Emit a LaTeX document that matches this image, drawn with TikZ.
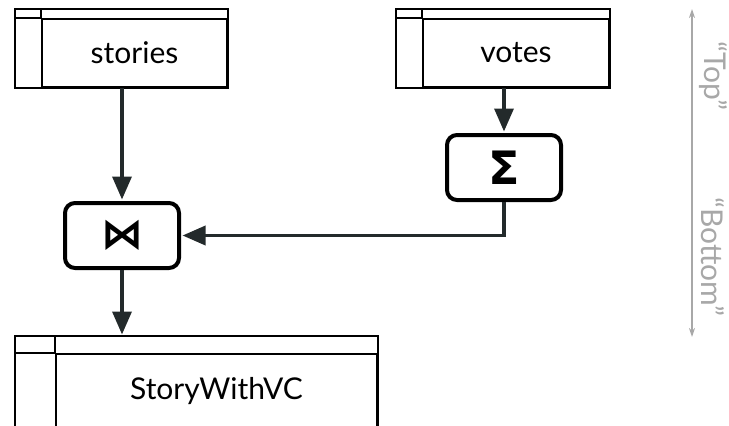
\documentclass[tikz,border=0pt]{standalone}
\usepackage{fontspec}
\setmainfont{Lato}
\newfontfamily\symfont{DejaVu Sans}
\usetikzlibrary{arrows.meta}
\tikzset{>={Stealth[inset=0pt,length=23pt,width=19pt]}}
\definecolor{flowgray}{HTML}{232A2B}
\definecolor{axisgray}{HTML}{A8A8A8}

\begin{document}
\begin{tikzpicture}[x=1pt, y=-1pt,
  tbl/.style={draw, line width=2pt, inner sep=0pt, font=\fontsize{30}{36}\selectfont},
  op/.style={draw, line width=4pt, rounded corners=10pt, minimum width=114pt, minimum height=65pt, inner sep=0pt, font=\symfont\bfseries\fontsize{#1}{#1}\selectfont},
  flow/.style={->, draw=flowgray, line width=3.5pt, shorten >=1.5pt},
  axislbl/.style={text=axisgray, rotate=-90, font=\fontsize{30}{36}\selectfont}]
\useasboundingbox (0,0) rectangle (729,426);
\clip (0,0) rectangle (729,426);

% tables (node = body cell)
\node[tbl, minimum width=185pt, minimum height=68pt] (stories) at (134.5,53) {stories};
\node[tbl, minimum width=186pt, minimum height=68pt] (votes) at (516,53) {votes};
\node[tbl, minimum width=321pt, minimum height=75pt] (result) at (216.5,391.5) {StoryWithVC};
\foreach \t/\w/\h in {stories/26/9, votes/26/9, result/40/17}
  \draw[line width=2pt] ([shift={(-\w pt,\h pt)}]\t.north west) rectangle (\t.south east)
    (\t.north west) -- ++(-\w pt,0pt) (\t.north west) -- ++(0pt,\h pt);
\coordinate (resulttop) at ([yshift=17pt]result.north);

% operators
\node[op=42] (join) at (122,235.5) {⋈};
\node[op=46] (sum) at (504,167.5) {Σ};

\draw[flow] (stories.south -| join.north) -- (join.north);
\draw[flow] (votes.south -| sum.north) -- (sum.north);
\draw[flow] (sum.south) |- (join.east);
\draw[flow] (join.south) -- (join.south |- resulttop);

% top/bottom axis
\coordinate (axtop) at (692,9);
\coordinate (axbot) at (692,337);
\draw[<->, >={Stealth[length=9pt,width=6pt]}, axisgray, line width=1.5pt] (axtop) -- (axbot);
\node[axislbl] (toplbl) at (713,76) {“Top”};
\node[axislbl] (botlbl) at (713,257) {“Bottom”};
\end{tikzpicture}
\end{document}
